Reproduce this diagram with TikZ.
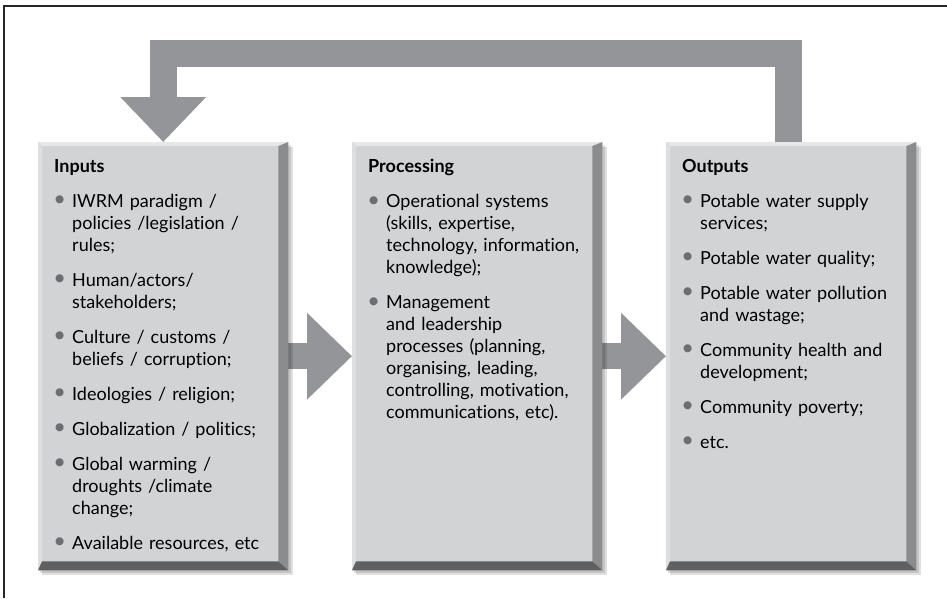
\documentclass[tikz,border=0pt]{standalone}
\usepackage{fontspec}
\setmainfont{Lato}[Ligatures=NoCommon]
\newfontfamily\symfont{DejaVu Sans}
\usetikzlibrary{positioning,arrows.meta,backgrounds}

\definecolor{arrowgray}{HTML}{939598}
\definecolor{boxface}{HTML}{D1D3D4}
\definecolor{bevtop}{HTML}{E6E7E8}
\definecolor{bevleft}{HTML}{DDDEDF}
\definecolor{bevright}{HTML}{8A8C8E}
\definecolor{bevbottom}{HTML}{5F6062}
\definecolor{bulletgray}{HTML}{6D6E71}

% bullet item with hanging indent, lines broken with \newline
\newcommand{\itm}{\par\vspace{13pt}\hangindent=18pt\hangafter=1\noindent\makebox[18pt][l]{\hspace{1pt}\textcolor{bulletgray}{\symfont\fontsize{10.5}{10}\selectfont\raisebox{4.5pt}{●}}}}

\tikzset{
  box/.style={fill=boxface, inner sep=0pt, minimum width=250pt, minimum height=428pt, anchor=north west},
  boxtext/.style={inner sep=0pt, text width=240pt, align=left, font=\fontsize{18}{22}\selectfont},
  flow/.style={arrowgray, line width=26pt, -{Triangle[width=84pt,length=45pt]}},
  shade/.style={fill=black, opacity=0.12},
}

\begin{document}
\begin{tikzpicture}[x=1pt,y=-1pt]
  \useasboundingbox (0,0) rectangle (947,598);

  % Boxes
  \node[box] (inputs) at (38,142) {};
  \node[box] (processing) at (352,142) {};
  \node[box] (outputs) at (666,142) {};

  % Bevelled edges
  \foreach \b in {inputs,processing,outputs} {
    \fill[bevtop] (\b.north west) -- (\b.north east) -- ([shift={(-10pt,-4pt)}]\b.north east) -- ([shift={(4pt,-4pt)}]\b.north west) -- cycle;
    \fill[bevleft] (\b.north west) -- ([shift={(4pt,-4pt)}]\b.north west) -- ([shift={(4pt,9pt)}]\b.south west) -- (\b.south west) -- cycle;
    \fill[bevright] (\b.north east) -- (\b.south east) -- ([shift={(-10pt,9pt)}]\b.south east) -- ([shift={(-10pt,-4pt)}]\b.north east) -- cycle;
    \fill[bevbottom] (\b.south west) -- ([shift={(4pt,9pt)}]\b.south west) -- ([shift={(-10pt,9pt)}]\b.south east) -- (\b.south east) -- cycle;
  }

  % Texts
  \node[boxtext, below right=17pt and 16pt of inputs.north west] (inputsText) {%
    \noindent\textbf{Inputs}
    \itm IWRM paradigm /\newline policies /legislation /\newline rules;
    \itm Human/actors/\newline stakeholders;
    \itm Culture / customs /\newline beliefs / corruption;
    \itm Ideologies / religion;
    \itm Globalization / politics;
    \itm Global warming /\newline droughts /climate\newline change;
    \itm Available resources, etc\par};
  \node[boxtext, below right=17pt and 16pt of processing.north west] (processingText) {%
    \noindent\textbf{Processing}
    \itm Operational systems\newline (skills, expertise,\newline technology, information,\newline knowledge);
    \itm Management\newline and leadership\newline processes (planning,\newline organising, leading,\newline controlling, motivation,\newline communications, etc).\par};
  \node[boxtext, below right=17pt and 16pt of outputs.north west] (outputsText) {%
    \noindent\textbf{Outputs}
    \itm Potable water supply\newline services;
    \itm Potable water quality;
    \itm Potable water pollution\newline and wastage;
    \itm Community health and\newline development;
    \itm Community poverty;
    \itm etc.\par};

  \begin{pgfonlayer}{background}
    % Frame
    \draw[line width=1.2pt, black!85] (4,598) -- (4,6) -- (947,6);

    % Flow arrows
    \draw[flow] (inputs.east) -- (processing.west);
    \draw[flow] (processing.east) -- (outputs.west);

    % Feedback arrow
    \coordinate (loop) at (0,53.5);
    \coordinate (feed) at ([xshift=-3pt]outputs.north);
    \draw[flow, line width=27pt, line join=miter, -{Triangle[width=83pt,length=45pt]}]
      (feed) -- (feed |- loop) -| (inputs.north);

    % Shadows
    \foreach \b in {inputs,processing,outputs} {
      \fill[shade] ([shift={(2pt,-3pt)}]\b.north west) rectangle ([shift={(3pt,-3pt)}]\b.south east);
      \fill[shade] ([shift={(4pt,-5pt)}]\b.north west) rectangle ([shift={(5pt,-5pt)}]\b.south east);
    }
  \end{pgfonlayer}
\end{tikzpicture}
\end{document}
